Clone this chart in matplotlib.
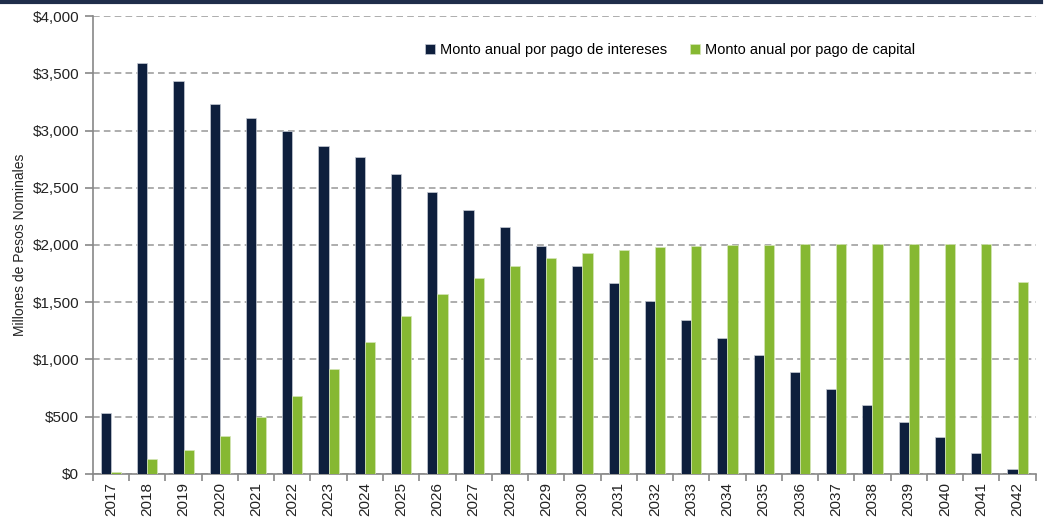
import numpy as np
import matplotlib.pyplot as plt
from matplotlib.ticker import FuncFormatter, FixedLocator

plt.rcParams['font.family'] = ['Liberation Sans', 'DejaVu Sans']

years = [str(y) for y in range(2017, 2043)]
intereses = [533, 3590, 3432, 3231, 3109, 2996, 2865, 2769, 2620, 2463,
             2306, 2157, 1991, 1817, 1668, 1511, 1345, 1188, 1039, 891,
             742, 603, 454, 323, 183, 44]
capital = [17, 131, 210, 332, 495, 681, 917, 1153, 1380, 1572,
           1712, 1817, 1886, 1930, 1956, 1983, 1991, 2000, 2003, 2005,
           2008, 2010, 2010, 2010, 2010, 1677]

navy = '#0e1f3d'
green = '#86b832'

fig = plt.figure(figsize=(10.44, 5.19), dpi=100)
ax = fig.add_axes([0.089, 0.087, 0.903, 0.882])

x = np.arange(len(years))
w = 0.28
ax.bar(x - w/2, intereses, w, color=navy, edgecolor='#c8ccd6', linewidth=0.5,
       label='Monto anual por pago de intereses', zorder=3)
ax.bar(x + w/2, capital, w, color=green, edgecolor='#d6e6b8', linewidth=0.5,
       label='Monto anual por pago de capital', zorder=3)

ax.set_xlim(-0.5, len(years) - 0.5)
ax.set_ylim(0, 4000)
ax.set_yticks(np.arange(0, 4001, 500))
ax.yaxis.set_major_formatter(FuncFormatter(lambda v, p: '${:,.0f}'.format(v)))
ax.grid(axis='y', color='#a0a0a0', linestyle=(0, (4, 2.5)), linewidth=1.2, zorder=0)

ax.set_xticks(x)
ax.set_xticklabels(years, rotation=90)
ax.xaxis.set_minor_locator(FixedLocator(np.arange(-0.5, len(years), 1)))
ax.tick_params(axis='x', which='major', length=0, pad=6, labelsize=11, colors='#222222')
ax.tick_params(axis='x', which='minor', length=5, width=1.2, color='#888888')
ax.tick_params(axis='y', length=6, width=1.2, color='#888888', labelsize=11,
               labelcolor='#222222', pad=4)

for s in ['top', 'right']:
    ax.spines[s].set_visible(False)
for s in ['left', 'bottom']:
    ax.spines[s].set_color('#888888')
    ax.spines[s].set_linewidth(1.2)

ax.set_ylabel('Millones de Pesos Nominales', fontsize=10, color='#222222', labelpad=4)

ax.legend(loc='upper center', bbox_to_anchor=(0.612, 0.97), ncol=2, frameon=False,
          fontsize=10.5, handlelength=0.7, handleheight=0.7, columnspacing=1.6,
          handletextpad=0.3)

fig.add_artist(plt.Line2D([0, 0.997], [0.997, 0.997], color='#1f2d4a',
                          linewidth=3, transform=fig.transFigure))

fig.savefig('out.png', dpi=100)
